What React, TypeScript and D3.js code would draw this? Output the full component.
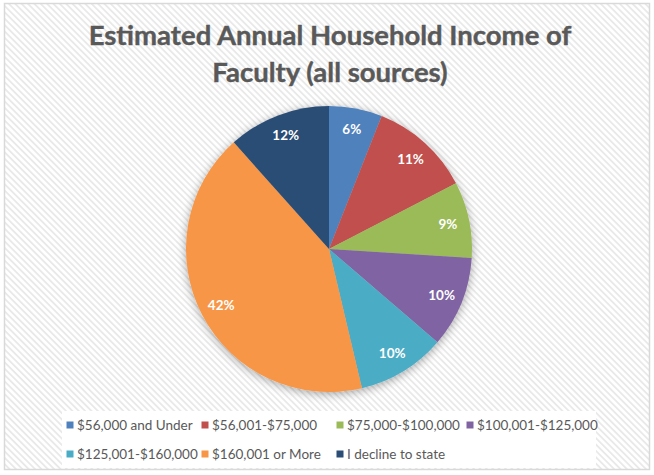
import React from "react";
import * as d3 from "d3";

const categories = [
  "$56,000 and Under",
  "$56,001-$75,000",
  "$75,000-$100,000",
  "$100,001-$125,000",
  "$125,001-$160,000",
  "$160,001 or More",
  "I decline to state",
];
const values = [6.0, 11.4, 8.6, 10.3, 10.0, 42.1, 11.6];
const colors = ["#4F81BD", "#C0504D", "#9BBB59", "#8064A2", "#4BACC6", "#F79646", "#2C4D75"];
const titleLines = ["Estimated Annual Household Income of", "Faculty (all sources)"];

const W = 654;
const H = 475;
const cx = 329;
const cy = 249;
const R = 143;

const legendCols = [70, 205, 340, 470];
const legendRows = [425.5, 454.5];
const legendLayout = [
  [0, 0], [1, 0], [2, 0], [3, 0],
  [0, 1], [1, 1], [2, 1],
];

export default function App() {
  const total = d3.sum(values);
  const pie = d3.pie<number>().sort(null).value((d) => d);
  const arcs = pie(values);
  const arc = d3.arc<d3.PieArcDatum<number>>().innerRadius(0).outerRadius(R);
  const labelArc = d3.arc<d3.PieArcDatum<number>>().innerRadius(R * 0.85).outerRadius(R * 0.85);
  const font = "Lato, 'Open Sans', sans-serif";

  return (
    <svg width={W} height={H} style={{ position: "absolute", left: 0, top: 0 }}>
      <defs>
        <pattern id="hatch" patternUnits="userSpaceOnUse" width="4.5" height="4.5" patternTransform="rotate(45)">
          <rect width="4.5" height="4.5" fill="#ffffff" />
          <rect width="4.5" height="1.8" fill="#e9e9e9" />
        </pattern>
        <filter id="shadow" x="-20%" y="-20%" width="140%" height="140%">
          <feGaussianBlur in="SourceAlpha" stdDeviation="5" />
          <feOffset dx="0" dy="2" result="b" />
          <feComponentTransfer>
            <feFuncA type="linear" slope="0.35" />
          </feComponentTransfer>
          <feMerge>
            <feMergeNode />
            <feMergeNode in="SourceGraphic" />
          </feMerge>
        </filter>
      </defs>
      <rect x={0} y={0} width={W} height={H} fill="#ffffff" />
      <rect x={4.5} y={3.5} width={645} height={466} fill="url(#hatch)" stroke="#d9d9d9" strokeWidth={1.5} />
      {titleLines.map((t, i) => (
        <text
          key={i}
          x={330}
          y={45 + i * 37}
          textAnchor="middle"
          fontFamily={font}
          fontWeight={700}
          fontSize={27.5}
          fill="#595959"
          stroke="#595959"
          strokeWidth={0.4}
        >
          {t}
        </text>
      ))}
      <g transform={`translate(${cx},${cy})`} filter="url(#shadow)">
        {arcs.map((a, i) => (
          <path key={i} d={arc(a) || ""} fill={colors[i]} />
        ))}
      </g>
      <g transform={`translate(${cx},${cy})`}>
        {arcs.map((a, i) => {
          const [x, y] = labelArc.centroid(a);
          return (
            <text
              key={i}
              x={x}
              y={y}
              dy="0.35em"
              textAnchor="middle"
              fontFamily={font}
              fontWeight={700}
              fontSize={13.5}
              fill="#ffffff"
            >
              {`${Math.round((values[i] / total) * 100)}%`}
            </text>
          );
        })}
      </g>
      <rect x={62} y={411} width={534} height={57} fill="#ffffff" />
      {categories.map((c, i) => {
        const [col, row] = legendLayout[i];
        const x = legendCols[col];
        const y = legendRows[row];
        return (
          <g key={i}>
            <rect x={x - 3.5} y={y - 4} width={7} height={7} fill={colors[i]} />
            <text x={x + 7} y={y} dy="0.35em" fontFamily={font} fontSize={13.5} fill="#595959">
              {c}
            </text>
          </g>
        );
      })}
    </svg>
  );
}
